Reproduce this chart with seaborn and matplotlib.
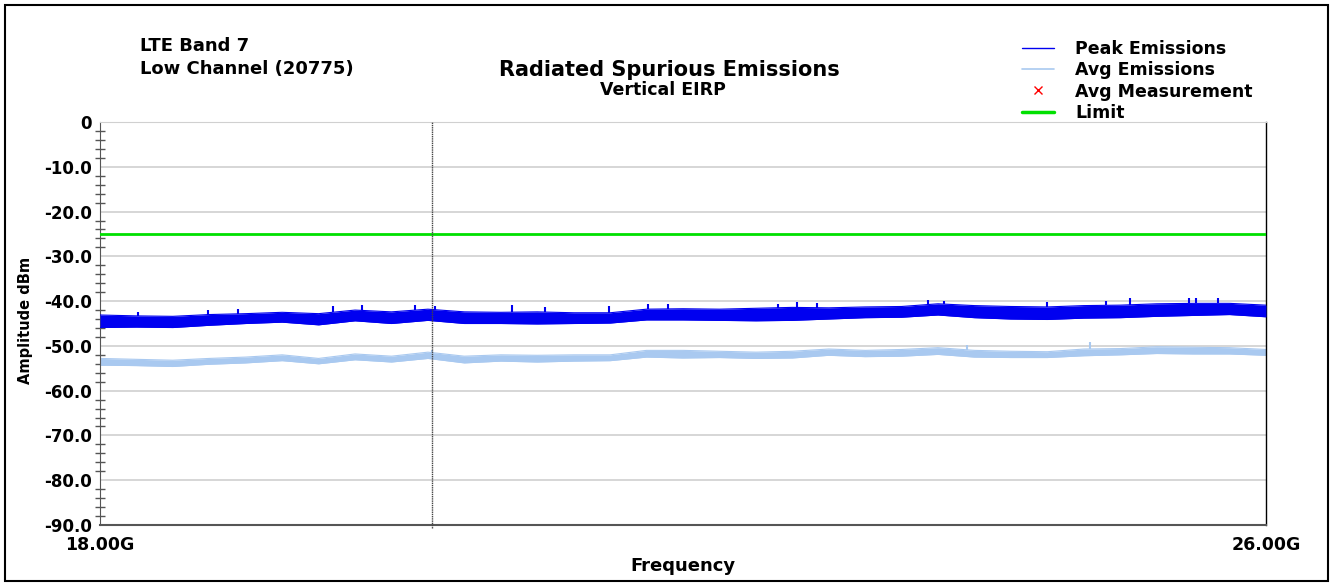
import numpy as np
import pandas as pd
import matplotlib.pyplot as plt
import seaborn as sns
from matplotlib.lines import Line2D
from matplotlib.patches import Rectangle
from matplotlib.ticker import MultipleLocator

# frequency grid (GHz) the trace envelopes were read at
freq_ghz = [18.00, 18.25, 18.50, 18.75, 19.00, 19.25, 19.50, 19.75, 20.00, 20.25, 20.50,
            20.75, 21.00, 21.25, 21.50, 21.75, 22.00, 22.25, 22.50, 22.75, 23.00, 23.25,
            23.50, 23.75, 24.00, 24.25, 24.50, 24.75, 25.00, 25.25, 25.50, 25.75, 26.00]

# peak emissions trace, top and bottom of the noisy band (dBm)
peak_top = [-43.1, -43.3, -43.4, -43.0, -42.8, -42.5, -42.8, -42.0, -42.4, -41.8, -42.4,
            -42.5, -42.4, -42.6, -42.6, -41.8, -41.7, -41.8, -41.6, -41.4, -41.5, -41.3,
            -41.2, -40.6, -41.0, -41.2, -41.3, -41.0, -40.9, -40.6, -40.5, -40.5, -40.9]
peak_bottom = [-45.9, -45.8, -45.9, -45.4, -45.0, -44.7, -45.3, -44.4, -45.0, -44.3, -45.0,
               -45.0, -45.1, -45.0, -44.9, -44.2, -44.2, -44.3, -44.4, -44.3, -44.0, -43.7,
               -43.6, -43.1, -43.7, -44.0, -44.1, -43.8, -43.7, -43.4, -43.2, -43.0, -43.5]

# average emissions trace, top and bottom of the band (dBm)
avg_top = [-52.8, -53.0, -53.2, -52.8, -52.5, -52.0, -52.8, -51.8, -52.3, -51.4, -52.3,
           -52.0, -52.1, -52.0, -52.0, -51.0, -51.0, -51.2, -51.4, -51.2, -50.7, -51.0,
           -50.8, -50.4, -51.0, -51.2, -51.3, -50.7, -50.6, -50.2, -50.3, -50.4, -50.8]
avg_bottom = [-54.3, -54.4, -54.6, -54.1, -53.8, -53.3, -54.0, -53.1, -53.6, -52.8, -53.8,
              -53.4, -53.6, -53.4, -53.3, -52.5, -52.7, -52.6, -52.8, -52.7, -52.1, -52.4,
              -52.3, -51.9, -52.5, -52.6, -52.6, -52.2, -52.0, -51.7, -51.8, -51.8, -52.1]

# isolated spikes above the bands (GHz, dBm)
spike_freq = [18.26, 18.74, 18.95, 19.60, 19.80, 20.16, 20.30, 20.83, 21.05, 21.49, 21.76,
              21.90, 22.65, 22.78, 22.92, 23.68, 23.79, 24.50, 24.90, 25.07, 25.47, 25.52,
              25.67]
spike_top = [-42.4, -41.9, -41.8, -41.2, -40.9, -40.9, -41.0, -40.9, -41.3, -41.1, -40.7,
             -40.7, -40.6, -40.1, -40.4, -39.8, -40.0, -40.1, -39.9, -39.3, -39.4, -39.2,
             -39.2]
avg_spike_freq = [20.28, 23.95, 24.79]
avg_spike_top = [-50.9, -49.9, -49.1]

limit_dbm = -25.0
marker_freq = 20.28

y_ticks = [0, -10, -20, -30, -40, -50, -60, -70, -80, -90]
y_labels = ["0", "-10.0", "-20.0", "-30.0", "-40.0", "-50.0", "-60.0", "-70.0", "-80.0", "-90.0"]
x_ticks = [18.0, 26.0]
x_labels = ["18.00G", "26.00G"]

peak_color = "#0000f0"
avg_color = "#a9c9f0"
limit_color = "#00e000"

sns.set_style("white")
plt.rcParams['font.family'] = ['DejaVu Sans']
plt.rcParams['font.weight'] = 'bold'
plt.rcParams['text.color'] = 'black'
plt.rcParams['xtick.labelcolor'] = 'black'
plt.rcParams['ytick.labelcolor'] = 'black'

df = pd.DataFrame({"freq": freq_ghz, "peak_top": peak_top, "peak_bottom": peak_bottom,
                   "avg_top": avg_top, "avg_bottom": avg_bottom})
df["limit"] = limit_dbm

fig = plt.figure(figsize=(13.33, 5.83), dpi=100)
ax = fig.add_axes([0.075, 0.0995, 0.8747, 0.6912])

# grid first
for t in y_ticks:
    ax.axhline(t, color="#d0d0d0", lw=1.2, zorder=0)

# traces
ax.fill_between(df["freq"], df["avg_bottom"], df["avg_top"], color=avg_color, lw=0, zorder=2)
sns.lineplot(data=df, x="freq", y="avg_top", color=avg_color, lw=0.8, ax=ax, zorder=2)
sns.lineplot(data=df, x="freq", y="avg_bottom", color=avg_color, lw=0.8, ax=ax, zorder=2)
ax.vlines(avg_spike_freq, np.interp(avg_spike_freq, freq_ghz, avg_top), avg_spike_top,
          color=avg_color, lw=1.5, zorder=2)
ax.fill_between(df["freq"], df["peak_bottom"], df["peak_top"], color=peak_color, lw=0, zorder=3)
sns.lineplot(data=df, x="freq", y="peak_top", color=peak_color, lw=0.8, ax=ax, zorder=3)
sns.lineplot(data=df, x="freq", y="peak_bottom", color=peak_color, lw=0.8, ax=ax, zorder=3)
ax.vlines(spike_freq, np.interp(spike_freq, freq_ghz, peak_top), spike_top,
          color=peak_color, lw=1.5, zorder=3)
sns.lineplot(data=df, x="freq", y="limit", color=limit_color, lw=2, ax=ax, zorder=4)

# marker line
ax.axvline(marker_freq, ymin=-0.008, color="#444444", lw=1, ls=(0, (1, 0.6)),
           zorder=5, clip_on=False)

ax.set_xlim(18, 26)
ax.set_ylim(-90, 0)
ax.set_xticks(x_ticks)
ax.set_xticklabels(x_labels, fontsize=12.5, fontweight="bold")
ax.set_yticks(y_ticks)
ax.set_yticklabels(y_labels, fontsize=12, fontweight="bold")
ax.yaxis.set_minor_locator(MultipleLocator(2))
ax.tick_params(axis="y", which="major", direction="inout", length=10, width=1,
               color="#555555", pad=1)
ax.tick_params(axis="y", which="minor", direction="inout", length=7, width=1,
               color="#555555", left=True)
ax.tick_params(axis="x", length=0, pad=8)
ax.set_xlabel("Frequency", fontsize=13, fontweight="bold", labelpad=2, color="black")
ax.set_ylabel("")

ax.spines["left"].set_color("#555555")
ax.spines["bottom"].set_color("#555555")
ax.spines["bottom"].set_linewidth(1.5)
ax.spines["top"].set_color("#d0d0d0")
ax.spines["right"].set_color("black")
ax.spines["right"].set_linewidth(1)

fig.text(0.019, 0.45, "Amplitude dBm", rotation=90, fontsize=10.5, fontweight="bold",
         ha="center", va="center")

# header text
fig.text(0.105, 0.921, "LTE Band 7", fontsize=13, fontweight="bold", va="center")
fig.text(0.105, 0.882, "Low Channel (20775)", fontsize=13, fontweight="bold", va="center")
fig.text(0.502, 0.88, "Radiated Spurious Emissions", fontsize=15, fontweight="bold",
         ha="center", va="center")
fig.text(0.497, 0.846, "Vertical EIRP", fontsize=12.5, fontweight="bold", ha="center",
         va="center")

handles = [Line2D([], [], color=peak_color, lw=1),
           Line2D([], [], color=avg_color, lw=1.2),
           Line2D([], [], color="red", marker="x", ls="none", markersize=6),
           Line2D([], [], color=limit_color, lw=2.5)]
names = ["Peak Emissions", "Avg Emissions", "Avg Measurement", "Limit"]
fig.legend(handles, names, loc="upper left", bbox_to_anchor=(0.7615, 0.944), frameon=False,
           handlelength=1.85, handletextpad=1.2, labelspacing=0.2, borderaxespad=0,
           prop={"weight": "bold", "size": 12.5})

# figure border
fig.patches.append(Rectangle((0.004, 0.003), 0.992, 0.988, transform=fig.transFigure,
                             fill=False, edgecolor="black", lw=1.5))

fig.savefig("out.png", dpi=100)
